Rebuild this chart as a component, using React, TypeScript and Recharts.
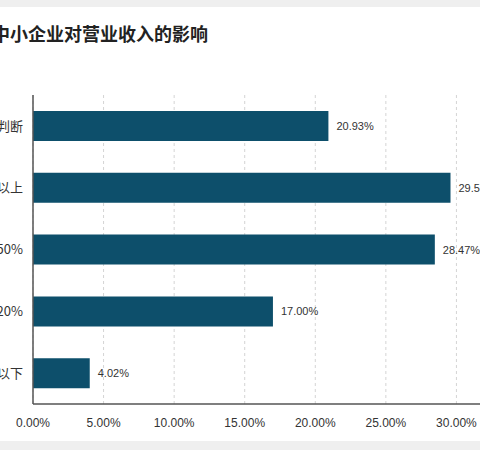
import React from "react";
import {
  BarChart,
  Bar,
  XAxis,
  YAxis,
  CartesianGrid,
  LabelList,
} from "recharts";

const categories = ["无法判断", "减少50%以上", "减少20%-50%", "减少10%-20%", "减少10%以下"];
const shares = [20.93, 29.58, 28.47, 17.0, 4.02];
const xTicks = [0, 5, 10, 15, 20, 25, 30, 35];

const data = categories.map((name, i) => ({ name, value: shares[i] }));

const fmt = (v: number) => `${v.toFixed(2)}%`;

const numFont = "'Liberation Sans', Arial, 'Noto Sans CJK SC', sans-serif";

export default function App() {
  return (
    <div
      style={{
        position: "absolute",
        left: 0,
        top: 0,
        width: 480,
        height: 450,
        overflow: "hidden",
        background: "#efefef",
        fontFamily: "'Noto Sans CJK SC', 'Noto Sans', sans-serif",
      }}
    >
      {/* panel blanco */}
      <div
        style={{
          position: "absolute",
          left: 0,
          top: 7,
          width: 480,
          height: 434,
          background: "#ffffff",
        }}
      />
      <div
        style={{
          position: "absolute",
          left: -8,
          top: 21,
          fontSize: 18,
          fontWeight: 700,
          color: "#222",
          whiteSpace: "nowrap",
          lineHeight: "24px",
        }}
      >
        中小企业对营业收入的影响
      </div>
      <div style={{ position: "absolute", left: -57, top: 0 }}>
        <BarChart
          width={624}
          height={444}
          data={data}
          layout="vertical"
          margin={{ top: 95, right: 40, bottom: 0, left: 0 }}
          barSize={30}
        >
          <CartesianGrid
            horizontal={false}
            strokeDasharray="3 3"
            stroke="#d4d4d4"
          />
          <XAxis
            type="number"
            domain={[0, 35]}
            ticks={xTicks}
            tickFormatter={fmt}
            axisLine={{ stroke: "#555", strokeWidth: 1.5 }}
            tickLine={false}
            tick={{ fill: "#333", fontSize: 12, fontFamily: numFont }}
            height={40}
            tickMargin={8}
          />
          <XAxis
            xAxisId="top"
            orientation="top"
            type="number"
            domain={[0, 35]}
            tick={false}
            tickLine={false}
            axisLine={{ stroke: "#dcdcdc" }}
            height={0}
          />
          <YAxis
            type="category"
            dataKey="name"
            width={90}
            axisLine={{ stroke: "#555", strokeWidth: 1.5 }}
            tickLine={false}
            tickMargin={4}
            tick={{ fill: "#333", fontSize: 13 }}
          />
          <Bar dataKey="value" fill="#0d4f6b" isAnimationActive={false}>
            <LabelList
              dataKey="value"
              position="right"
              offset={8}
              formatter={(v: any) => fmt(Number(v))}
              style={{ fill: "#333", fontSize: 11, fontFamily: numFont }}
            />
          </Bar>
        </BarChart>
      </div>
    </div>
  );
}
